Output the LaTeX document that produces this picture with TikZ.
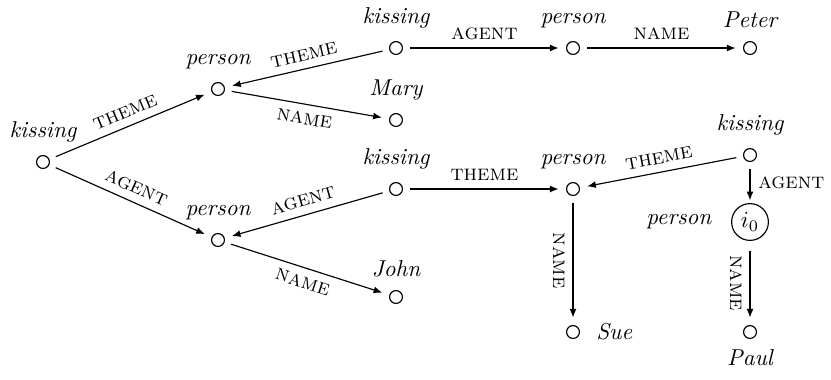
\documentclass[tikz,border=0pt]{standalone}
\usetikzlibrary{arrows.meta}
\begin{document}
\begin{tikzpicture}[x=0.435pt,y=-0.435pt,line width=0.5pt,
  v/.style={circle,draw,inner sep=0pt,minimum size=5.6pt},
  every label/.style={font=\itshape},
  label distance=2pt,
  e/.style={-{Latex[length=3.8pt,width=3pt]},shorten >=3.2pt,shorten <=3pt},
  el/.style={font=\fontsize{9.6}{11}\selectfont\scshape,sloped},
  elr/.style={font=\fontsize{9.6}{11}\selectfont\scshape}]
\useasboundingbox (0,0) rectangle (831,379);
\node[v,label=above:kissing] (k1) at (43,162) {};
\node[v,label=above:person] (p1) at (218,89) {};
\node[v,label=above:kissing] (k2) at (396,48) {};
\node[v,label=above:person] (p2) at (573,48) {};
\node[v,label=above:Peter] (peter) at (750,48) {};
\node[v,label=above:Mary] (mary) at (396,120) {};
\node[v,label=above:person] (p3) at (218,240) {};
\node[v,label=above:kissing] (k3) at (396,189) {};
\node[v,label=above:John] (john) at (396,297) {};
\node[v,label=above:person] (p4) at (573,189) {};
\node[v,label=above:kissing] (k4) at (750,155) {};
\node[circle,draw,inner sep=0.8pt,minimum size=16pt,label={[label distance=5pt]left:person}] (i0) at (750,222) {$i_0$};
\node[v,label={[label distance=3.5pt]right:Sue}] (sue) at (573,332) {};
\node[v,label={[label distance=1pt]below:Paul}] (paul) at (750,332) {};
\draw[e] (k1) -- node[el,above]{theme} (p1);
\draw[e] (k1) -- node[el,above]{agent} (p3);
\draw[e] (p1) -- node[el,below]{name} (mary);
\draw[e] (k2) -- node[el,above]{theme} (p1);
\draw[e] (k2) -- node[el,above]{agent} (p2);
\draw[e] (p2) -- node[el,above]{name} (peter);
\draw[e] (k3) -- node[el,above]{agent} (p3);
\draw[e] (p3) -- node[el,below]{name} (john);
\draw[e] (k3) -- node[el,above]{theme} (p4);
\draw[e] (k4) -- node[el,above]{theme} (p4);
\draw[e,shorten >=1.2pt] (k4) -- node[elr,right]{agent} (i0);
\draw[e,shorten <=4.5pt] (i0) -- node[el,below]{name} (paul);
\draw[e] (p4) -- node[el,below]{name} (sue);
\end{tikzpicture}
\end{document}
